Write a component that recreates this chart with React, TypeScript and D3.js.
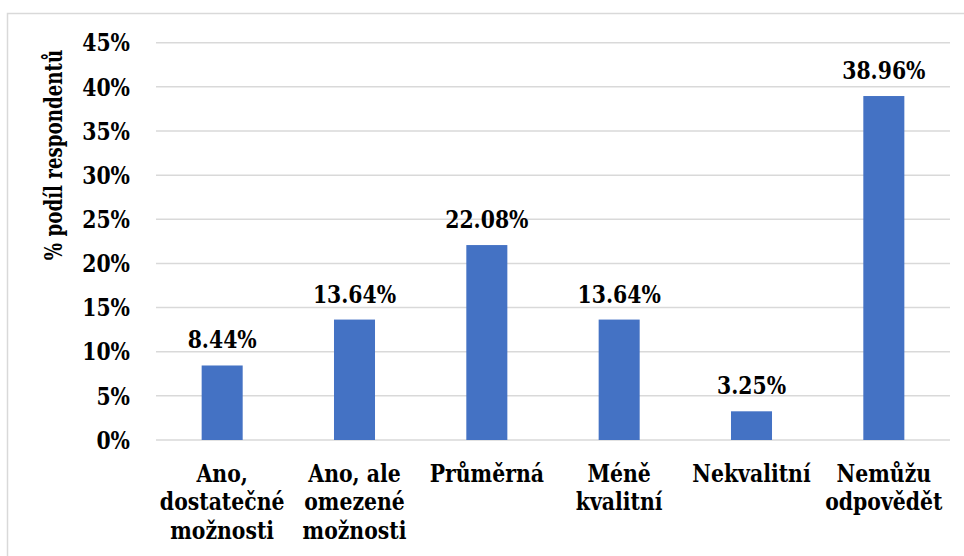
import React from "react";
import * as d3 from "d3";

const categories: string[][] = [
  ["Ano,", "dostatečné", "možnosti"],
  ["Ano, ale", "omezené", "možnosti"],
  ["Průměrná"],
  ["Méně", "kvalitní"],
  ["Nekvalitní"],
  ["Nemůžu", "odpovědět"],
];
const values: number[] = [8.44, 13.64, 22.08, 13.64, 3.25, 38.96];
const yTicks: number[] = [0, 5, 10, 15, 20, 25, 30, 35, 40, 45];
const yTitle = "% podíl respondentů";

const W = 964;
const H = 556;
const left = 156;
const right = 950;
const top = 42.7;
const bottom = 440;
const FONT = '"DejaVu Serif", serif';
const SX = 0.85;

function T(props: {
  x: number;
  y: number;
  anchor: "start" | "middle" | "end";
  lines: string[];
  rotate?: number;
  sx?: number;
}) {
  const { x, y, anchor, lines, rotate = 0, sx = SX } = props;
  return (
    <g transform={`translate(${x},${y}) rotate(${rotate}) scale(${sx},1)`}>
      <text
        textAnchor={anchor}
        style={{ fontFamily: FONT, fontWeight: 700, fontSize: 24 }}
        fill="#000"
      >
        {lines.map((l, j) => (
          <tspan key={j} x={0} y={j * 28.5}>
            {l}
          </tspan>
        ))}
      </text>
    </g>
  );
}

export default function App() {
  const x = d3
    .scaleBand<number>()
    .domain(d3.range(values.length))
    .range([left, right])
    .paddingInner(0.69)
    .paddingOuter(0.345);
  const y = d3.scaleLinear().domain([0, 45]).range([bottom, top]);
  const cx = (i: number) => (x(i) as number) + x.bandwidth() / 2;

  return (
    <svg
      width={W}
      height={H}
      style={{ position: "absolute", left: 0, top: 0, background: "#fff" }}
    >
      <rect x={7.5} y={13.5} width={980} height={600} fill="#fff" stroke="#d9d9d9" strokeWidth={1.5} />
      {yTicks.map((t) => (
        <g key={t}>
          <line x1={left} x2={right} y1={y(t)} y2={y(t)} stroke="#d9d9d9" strokeWidth={1.5} />
          <T x={130} y={y(t) + 8.7} anchor="end" lines={[t + "%"]} />
        </g>
      ))}
      {values.map((v, i) => (
        <g key={i}>
          <rect x={x(i)} y={y(v)} width={x.bandwidth()} height={y(0) - y(v)} fill="#4472c4" />
          <T x={cx(i)} y={y(v) - 17} anchor="middle" lines={[v.toFixed(2) + "%"]} />
        </g>
      ))}
      {categories.map((lines, i) => (
        <T key={i} x={cx(i)} y={482} anchor="middle" lines={lines} />
      ))}
      <T x={62} y={155} rotate={-90} sx={0.76} anchor="middle" lines={[yTitle]} />
    </svg>
  );
}
